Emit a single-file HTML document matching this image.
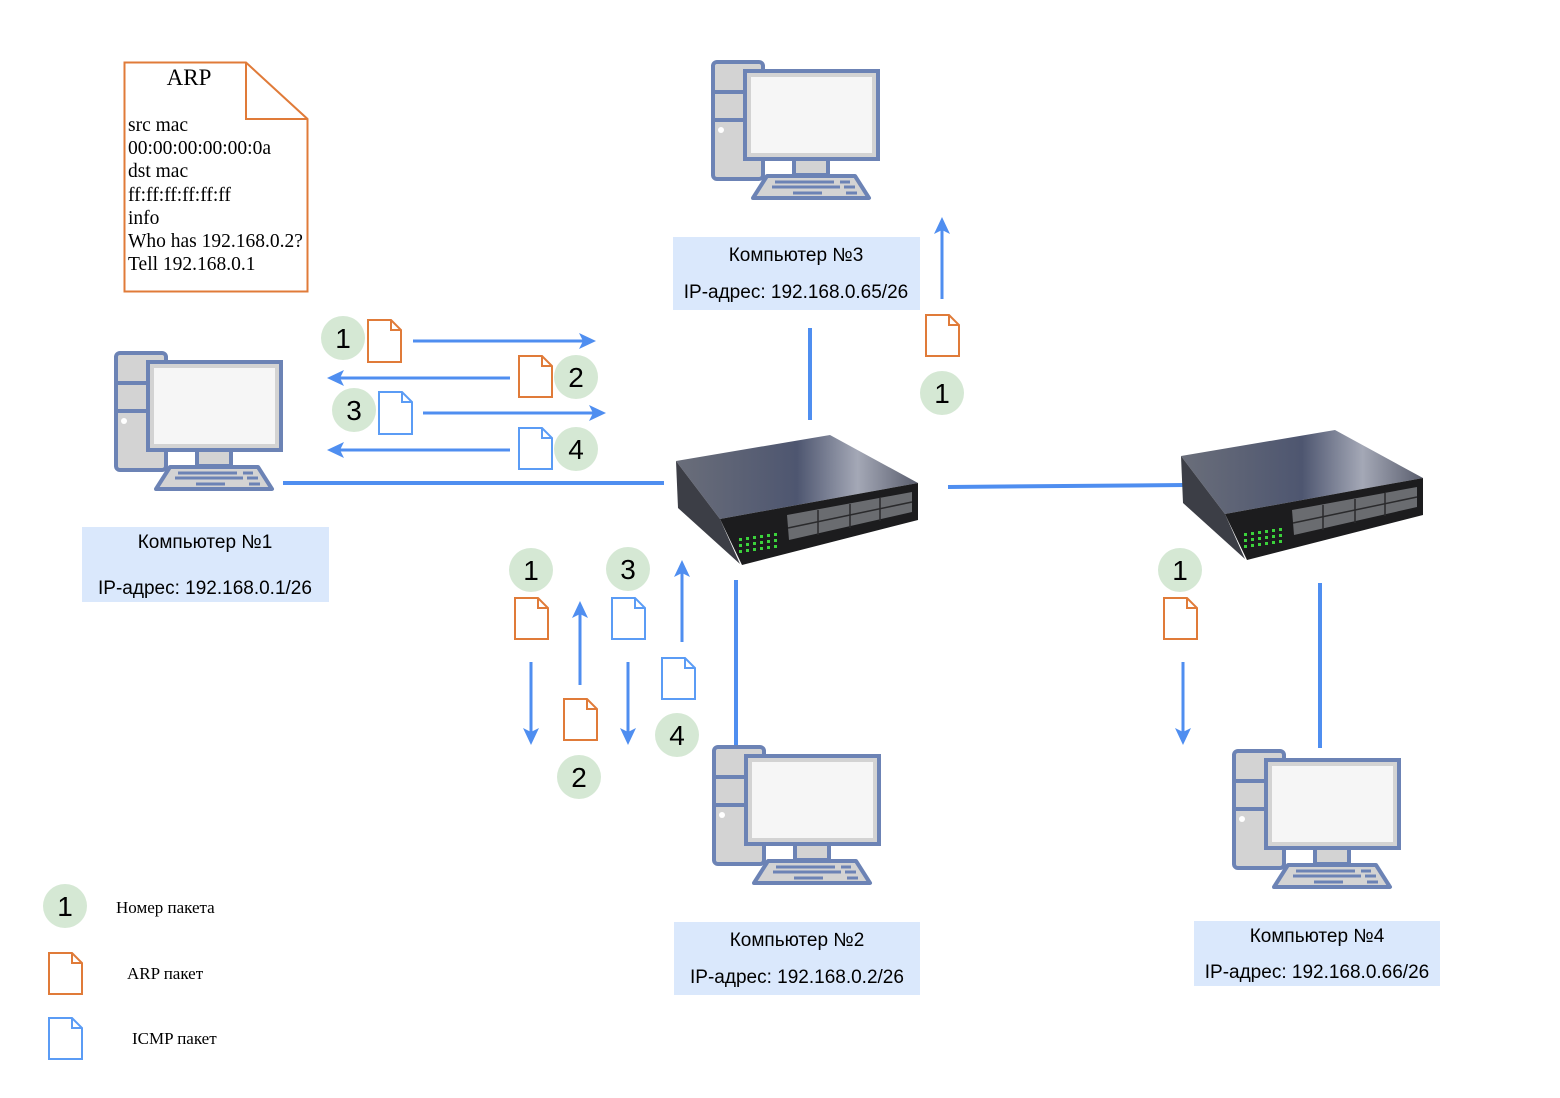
<!DOCTYPE html>
<html><head><meta charset="utf-8"><style>
html,body{margin:0;padding:0;background:#fff;}
svg{display:block;}
.lbl{font-family:"Liberation Sans",sans-serif;font-size:19px;fill:#000;text-anchor:middle;}
.num{font-family:"Liberation Sans",sans-serif;font-size:28px;fill:#000;text-anchor:middle;}
.ser{font-family:"Liberation Serif",serif;fill:#000;}
</style></head><body>
<svg width="1560" height="1098" viewBox="0 0 1560 1098" xmlns="http://www.w3.org/2000/svg">
<defs>
  <linearGradient id="top" x1="0" y1="0" x2="1" y2="0">
    <stop offset="0" stop-color="#6a6e7a"/><stop offset="0.5" stop-color="#4e5670"/><stop offset="0.75" stop-color="#a4a8b6"/><stop offset="1" stop-color="#5a5e6e"/>
  </linearGradient>
  <g id="pc">
    <rect x="116" y="353" width="50" height="117" rx="4" fill="#d3d3d3" stroke="#6c83b5" stroke-width="4"/>
    <line x1="116" y1="383" x2="166" y2="383" stroke="#6c83b5" stroke-width="4"/>
    <line x1="116" y1="411" x2="166" y2="411" stroke="#6c83b5" stroke-width="4"/>
    <circle cx="124" cy="421" r="3" fill="#fff"/>
    <rect x="148" y="362" width="133" height="88" fill="#d3d3d3" stroke="#6c83b5" stroke-width="4"/>
    <rect x="154" y="368" width="121" height="76" fill="#f6f6f6"/>
    <rect x="197" y="450" width="34" height="16" fill="#d3d3d3" stroke="#6c83b5" stroke-width="4"/>
    <polygon points="170,467 258,467 272,489 156,489" fill="#d3d3d3" stroke="#6c83b5" stroke-width="4" stroke-linejoin="round"/>
    <line x1="178" y1="473" x2="237" y2="473" stroke="#6c83b5" stroke-width="3"/>
    <line x1="243" y1="473" x2="253" y2="473" stroke="#6c83b5" stroke-width="3"/>
    <line x1="175" y1="478" x2="243" y2="478" stroke="#6c83b5" stroke-width="3"/>
    <line x1="247" y1="478" x2="258" y2="478" stroke="#6c83b5" stroke-width="3"/>
    <line x1="196" y1="484" x2="225" y2="484" stroke="#6c83b5" stroke-width="3"/>
    <line x1="249" y1="484" x2="260" y2="484" stroke="#6c83b5" stroke-width="3"/>
  </g>
  <g id="sw">
    <polygon points="676,461 830,435 918,483 720,519" fill="url(#top)"/>
    <polygon points="676,461 720,519 740,564 678,508" fill="#3c3e46"/>
    <polygon points="720,519 918,483 918,520 742,565" fill="#1c1c1e"/>
    <polygon points="787,515 912,492 912,512 789,540" fill="#6a6c70"/>
    <g stroke="#2a2a2c" stroke-width="1.5">
      <line x1="788" y1="528" x2="912" y2="502"/>
      <line x1="818" y1="510" x2="818" y2="535"/>
      <line x1="850" y1="504" x2="850" y2="528"/>
      <line x1="880" y1="498" x2="880" y2="521"/>
    </g>
    <g fill="#3bd23b">
      <rect x="739" y="538" width="3" height="3"/><rect x="746" y="537" width="3" height="3"/><rect x="753" y="536" width="3" height="3"/><rect x="760" y="535" width="3" height="3"/><rect x="767" y="534" width="3" height="3"/><rect x="774" y="533" width="3" height="3"/>
      <rect x="739" y="544" width="3" height="3"/><rect x="746" y="543" width="3" height="3"/><rect x="753" y="542" width="3" height="3"/><rect x="760" y="541" width="3" height="3"/><rect x="767" y="540" width="3" height="3"/><rect x="774" y="539" width="3" height="3"/>
      <rect x="739" y="550" width="3" height="3"/><rect x="746" y="549" width="3" height="3"/><rect x="753" y="548" width="3" height="3"/><rect x="760" y="547" width="3" height="3"/><rect x="767" y="546" width="3" height="3"/><rect x="774" y="545" width="3" height="3"/>
    </g>
  </g>
</defs>

<g stroke="#4f8ef0" stroke-width="4">
  <line x1="283" y1="483" x2="664" y2="483"/>
  <line x1="948" y1="487" x2="1185" y2="485"/>
  <line x1="810" y1="328" x2="810" y2="420"/>
  <line x1="736" y1="580" x2="736" y2="752"/>
  <line x1="1320" y1="583" x2="1320" y2="748"/>
</g>

<use href="#pc"/>
<use href="#pc" transform="translate(597,-291)"/>
<use href="#pc" transform="translate(598,394)"/>
<use href="#pc" transform="translate(1118,398)"/>

<use href="#sw"/>
<use href="#sw" transform="translate(505,-5)"/>

<rect x="82" y="527" width="247" height="75" fill="#dae8fc"/>
<text class="lbl" x="205" y="548">Компьютер №1</text>
<text class="lbl" x="205" y="594">IP-адрес: 192.168.0.1/26</text>
<rect x="673" y="237" width="247" height="73" fill="#dae8fc"/>
<text class="lbl" x="796" y="261">Компьютер №3</text>
<text class="lbl" x="796" y="298">IP-адрес: 192.168.0.65/26</text>
<rect x="674" y="922" width="246" height="73" fill="#dae8fc"/>
<text class="lbl" x="797" y="946">Компьютер №2</text>
<text class="lbl" x="797" y="983">IP-адрес: 192.168.0.2/26</text>
<rect x="1194" y="921" width="246" height="65" fill="#dae8fc"/>
<text class="lbl" x="1317" y="942">Компьютер №4</text>
<text class="lbl" x="1317" y="978">IP-адрес: 192.168.0.66/26</text>

<path d="M124.5,62.5 H246 L307.5,119 V291.5 H124.5 Z" fill="#fff" stroke="#e07b39" stroke-width="2"/>
<path d="M246,62.5 V119 H307.5" fill="none" stroke="#e07b39" stroke-width="2"/>
<text class="ser" x="189" y="85" text-anchor="middle" style="font-size:23px">ARP</text>
<g class="ser" style="font-size:19.5px">
<text x="128" y="131">src mac</text>
<text x="128" y="154">00:00:00:00:00:0a</text>
<text x="128" y="177">dst mac</text>
<text x="128" y="201">ff:ff:ff:ff:ff:ff</text>
<text x="128" y="224">info</text>
<text x="128" y="247">Who has 192.168.0.2?</text>
<text x="128" y="270">Tell 192.168.0.1</text>
</g>

<g stroke="#4f8ef0" stroke-width="3" fill="none">
  <line x1="413" y1="341" x2="585" y2="341"/>
  <line x1="510" y1="378" x2="338" y2="378"/>
  <line x1="423" y1="413" x2="595" y2="413"/>
  <line x1="510" y1="450" x2="338" y2="450"/>
  <line x1="942" y1="299" x2="942" y2="228"/>
  <line x1="531" y1="662" x2="531" y2="735"/>
  <line x1="580" y1="685" x2="580" y2="612"/>
  <line x1="628" y1="662" x2="628" y2="735"/>
  <line x1="682" y1="642" x2="682" y2="572"/>
  <line x1="1183" y1="662" x2="1183" y2="735"/>
</g>
<g fill="#4f8ef0">
  <polygon points="596,341 579,333 583,341 579,349"/>
  <polygon points="327,378 344,370 340,378 344,386"/>
  <polygon points="606,413 589,405 593,413 589,421"/>
  <polygon points="327,450 344,442 340,450 344,458"/>
  <polygon points="942,217 934,234 942,230 950,234"/>
  <polygon points="531,745 523,728 531,732 539,728"/>
  <polygon points="580,601 572,618 580,614 588,618"/>
  <polygon points="628,745 620,728 628,732 636,728"/>
  <polygon points="682,560 674,577 682,573 690,577"/>
  <polygon points="1183,745 1175,728 1183,732 1191,728"/>
</g>

<g fill="#d5e8d4">
  <circle cx="343" cy="338" r="22"/><circle cx="576" cy="377" r="22"/>
  <circle cx="354" cy="410" r="22"/><circle cx="576" cy="449" r="22"/>
  <circle cx="942" cy="393" r="22"/>
  <circle cx="531" cy="570" r="22"/><circle cx="579" cy="777" r="22"/>
  <circle cx="628" cy="569" r="22"/><circle cx="677" cy="735" r="22"/>
  <circle cx="1180" cy="570" r="22"/>
  <circle cx="65" cy="906" r="22"/>
</g>
<text class="num" x="343" y="348">1</text>
<text class="num" x="576" y="387">2</text>
<text class="num" x="354" y="420">3</text>
<text class="num" x="576" y="459">4</text>
<text class="num" x="942" y="403">1</text>
<text class="num" x="531" y="580">1</text>
<text class="num" x="579" y="787">2</text>
<text class="num" x="628" y="579">3</text>
<text class="num" x="677" y="745">4</text>
<text class="num" x="1180" y="580">1</text>
<text class="num" x="65" y="916">1</text>

<g fill="#fff" stroke-width="2" stroke-linejoin="miter">
  <g stroke="#e07b39">
    <path d="M368,320 H391 L401,330 V362 H368 Z M391,320 V330 H401"/>
    <path d="M519,356 H542 L552,366 V397 H519 Z M542,356 V366 H552"/>
    <path d="M926,315 H949 L959,325 V356 H926 Z M949,315 V325 H959"/>
    <path d="M515,598 H538 L548,608 V639 H515 Z M538,598 V608 H548"/>
    <path d="M564,699 H587 L597,709 V740 H564 Z M587,699 V709 H597"/>
    <path d="M1164,598 H1187 L1197,608 V639 H1164 Z M1187,598 V608 H1197"/>
    <path d="M49,953 H72 L82,963 V994 H49 Z M72,953 V963 H82"/>
  </g>
  <g stroke="#5b9cf5">
    <path d="M379,392 H402 L412,402 V434 H379 Z M402,392 V402 H412"/>
    <path d="M519,428 H542 L552,438 V469 H519 Z M542,428 V438 H552"/>
    <path d="M612,598 H635 L645,608 V639 H612 Z M635,598 V608 H645"/>
    <path d="M662,658 H685 L695,668 V699 H662 Z M685,658 V668 H695"/>
    <path d="M49,1018 H72 L82,1028 V1059 H49 Z M72,1018 V1028 H82"/>
  </g>
</g>

<text class="ser" x="116" y="913" style="font-size:17px">Номер пакета</text>
<text class="ser" x="127" y="979" style="font-size:17px">ARP пакет</text>
<text class="ser" x="132" y="1044" style="font-size:17px">ICMP пакет</text>
</svg>
</body></html>
